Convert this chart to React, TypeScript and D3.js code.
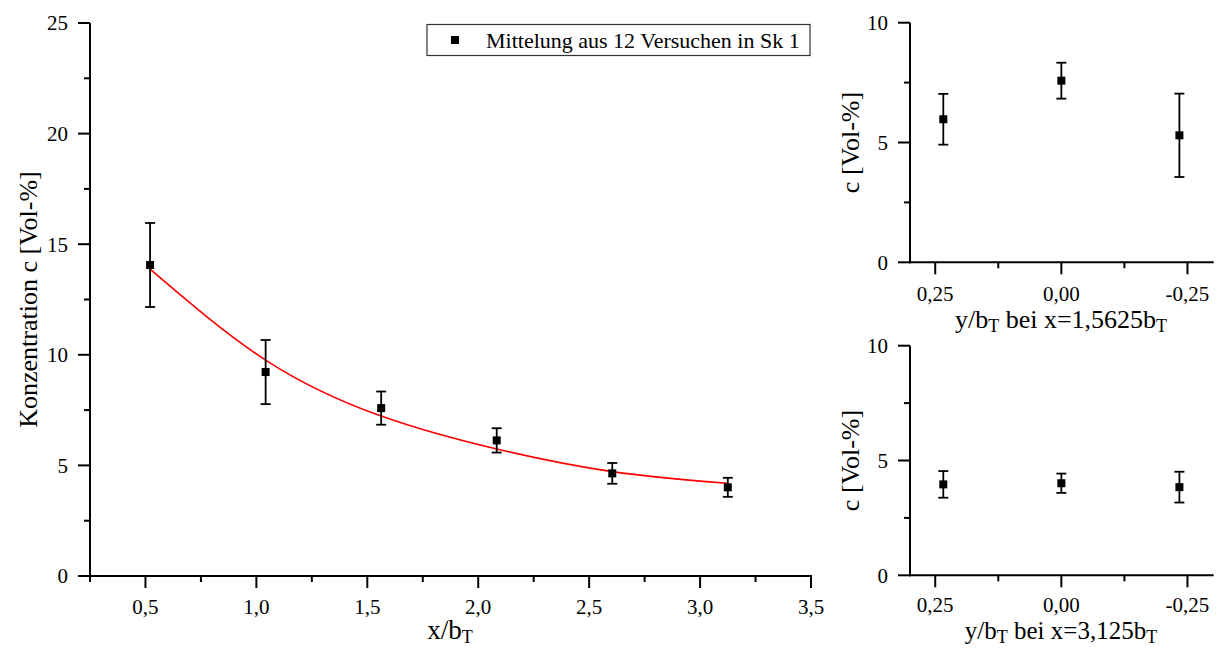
import React from 'react';
import * as d3 from 'd3';

// ---- data ----
const xMain = [0.5208, 1.0417, 1.5625, 2.0833, 2.6042, 3.125];
const cMain = [14.06, 9.22, 7.59, 6.13, 4.64, 4.01];
const errMain = [1.9, 1.45, 0.75, 0.55, 0.47, 0.43];
const fitX = [0.5208, 1.0417, 1.5625, 2.0833, 2.6042, 3.125];
const fitC = [13.87, 9.76, 7.23, 5.74, 4.72, 4.19];

const yPos = [0.234, 0, -0.234];
const cTop = [5.97, 7.58, 5.3];
const errTop = [1.06, 0.75, 1.74];
const cBottom = [3.96, 4.01, 3.84];
const errBottom = [0.58, 0.42, 0.67];

const mainXTicks = [0.5, 1.0, 1.5, 2.0, 2.5, 3.0, 3.5];
const mainXTickLabels = ['0,5', '1,0', '1,5', '2,0', '2,5', '3,0', '3,5'];
const mainXMinor = [0.25, 0.75, 1.25, 1.75, 2.25, 2.75, 3.25];
const mainYTicks = [0, 5, 10, 15, 20, 25];
const mainYMinor = [2.5, 7.5, 12.5, 17.5, 22.5];
const sideXTicks = [0.25, 0, -0.25];
const sideXTickLabels = ['0,25', '0,00', '-0,25'];
const sideXMinor = [0.125, -0.125];
const sideYTicks = [0, 5, 10];
const sideYMinor = [2.5, 7.5];

const legendLabel = 'Mittelung aus 12 Versuchen in Sk 1';

const FONT = '"Liberation Serif", "Times New Roman", serif';

type Scale = d3.ScaleLinear<number, number>;

function Axes({ x, y, xTicks, xLabels, xMinor, yTicks, yMinor, tickLabelY }: {
  x: Scale; y: Scale; xTicks: number[]; xLabels: string[]; xMinor: number[];
  yTicks: number[]; yMinor: number[]; tickLabelY: number;
}) {
  const [x0, x1] = x.range();
  const [y0, y1] = y.range();
  return (
    <g>
      <line x1={x0} x2={x0} y1={y0 + 1} y2={y1} stroke="#000" strokeWidth={2} />
      <line x1={x0 - 1} x2={x1 + 1} y1={y0} y2={y0} stroke="#000" strokeWidth={2} />
      {xTicks.map((t, i) => (
        <g key={'xt' + i}>
          <line x1={x(t)} x2={x(t)} y1={y0} y2={y0 + 12} stroke="#000" strokeWidth={2} />
          <text x={x(t)} y={tickLabelY} textAnchor="middle" fontSize={21} fontFamily={FONT}>{xLabels[i]}</text>
        </g>
      ))}
      {xMinor.map((t, i) => (
        <line key={'xm' + i} x1={x(t)} x2={x(t)} y1={y0} y2={y0 + 6} stroke="#000" strokeWidth={2} />
      ))}
      {yTicks.map((t, i) => (
        <g key={'yt' + i}>
          <line x1={x0 - 12} x2={x0} y1={y(t)} y2={y(t)} stroke="#000" strokeWidth={2} />
          <text x={x0 - 22} y={y(t)} dy="0.35em" textAnchor="end" fontSize={21} fontFamily={FONT}>{String(t)}</text>
        </g>
      ))}
      {yMinor.map((t, i) => (
        <line key={'ym' + i} x1={x0 - 6} x2={x0} y1={y(t)} y2={y(t)} stroke="#000" strokeWidth={2} />
      ))}
    </g>
  );
}

function Points({ x, y, xs, ys, errs }: { x: Scale; y: Scale; xs: number[]; ys: number[]; errs: number[] }) {
  return (
    <g>
      {xs.map((xv, i) => {
        const cx = x(xv);
        const top = y(ys[i] + errs[i]);
        const bot = y(ys[i] - errs[i]);
        return (
          <g key={i}>
            <line x1={cx} x2={cx} y1={top} y2={bot} stroke="#000" strokeWidth={1.8} />
            <line x1={cx - 5} x2={cx + 5} y1={top} y2={top} stroke="#000" strokeWidth={1.8} />
            <line x1={cx - 5} x2={cx + 5} y1={bot} y2={bot} stroke="#000" strokeWidth={1.8} />
            <rect x={cx - 4} y={y(ys[i]) - 4} width={8} height={8} fill="#000" />
          </g>
        );
      })}
    </g>
  );
}

export default function App() {
  const xM = d3.scaleLinear().domain([0.25, 3.5]).range([90, 811]);
  const yM = d3.scaleLinear().domain([0, 25]).range([576, 23]);
  const xT = d3.scaleLinear().domain([0.3, -0.3]).range([910, 1212.7]);
  const yT = d3.scaleLinear().domain([0, 10]).range([262.3, 22.7]);
  const xB = d3.scaleLinear().domain([0.3, -0.3]).range([910, 1212.7]);
  const yB = d3.scaleLinear().domain([0, 10]).range([575.3, 345.7]);

  const fitLine = d3.line<number>()
    .x((_, i) => xM(fitX[i]))
    .y((d) => yM(d))
    .curve(d3.curveNatural);

  return (
    <svg width={1220} height={648} style={{ position: 'absolute', left: 0, top: 0, background: '#fff' }}
      fontFamily={FONT}>
      <rect width={1220} height={648} fill="#fff" />
      {/* main chart */}
      <Axes x={xM} y={yM} xTicks={mainXTicks} xLabels={mainXTickLabels} xMinor={mainXMinor}
        yTicks={mainYTicks} yMinor={mainYMinor} tickLabelY={614} />
      <path d={fitLine(fitC) || ''} fill="none" stroke="#ff0000" strokeWidth={1.6} />
      <Points x={xM} y={yM} xs={xMain} ys={cMain} errs={errMain} />
      <text x={450} y={639} textAnchor="middle" fontSize={27}>
        x/b<tspan dy={4} fontSize={18}>T</tspan>
      </text>
      <text transform={`translate(37,${(576 + 23) / 2}) rotate(-90)`} textAnchor="middle" fontSize={26}>
        Konzentration c [Vol-%]
      </text>
      {/* legend */}
      <rect x={427} y={24.5} width={383} height={31} fill="#fff" stroke="#333" strokeWidth={1.2} />
      <rect x={451} y={36} width={8} height={8} fill="#000" />
      <text x={486} y={47.5} fontSize={22}>{legendLabel}</text>

      {/* top right */}
      <Axes x={xT} y={yT} xTicks={sideXTicks} xLabels={sideXTickLabels} xMinor={sideXMinor}
        yTicks={sideYTicks} yMinor={sideYMinor} tickLabelY={301} />
      <Points x={xT} y={yT} xs={yPos} ys={cTop} errs={errTop} />
      <text x={1061} y={328} textAnchor="middle" fontSize={26}>
        y/b<tspan dy={4} fontSize={18}>T</tspan><tspan dy={-4}> bei x=1,5625b</tspan><tspan dy={4} fontSize={18}>T</tspan>
      </text>
      <text transform={`translate(859,${(262.3 + 22.7) / 2}) rotate(-90)`} textAnchor="middle" fontSize={26}>
        c [Vol-%]
      </text>

      {/* bottom right */}
      <Axes x={xB} y={yB} xTicks={sideXTicks} xLabels={sideXTickLabels} xMinor={sideXMinor}
        yTicks={sideYTicks} yMinor={sideYMinor} tickLabelY={612} />
      <Points x={xB} y={yB} xs={yPos} ys={cBottom} errs={errBottom} />
      <text x={1061} y={639} textAnchor="middle" fontSize={25}>
        y/b<tspan dy={4} fontSize={18}>T</tspan><tspan dy={-4}> bei x=3,125b</tspan><tspan dy={4} fontSize={18}>T</tspan>
      </text>
      <text transform={`translate(859,${(575.3 + 345.7) / 2}) rotate(-90)`} textAnchor="middle" fontSize={26}>
        c [Vol-%]
      </text>
    </svg>
  );
}
